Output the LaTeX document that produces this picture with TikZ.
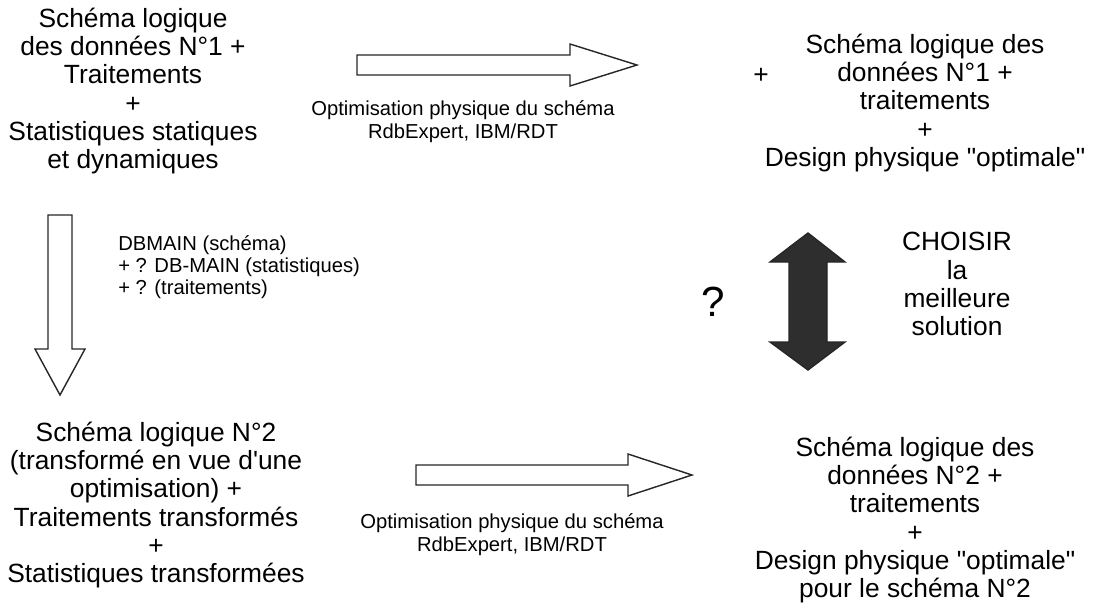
\documentclass[tikz,border=0pt]{standalone}
\usepackage{fontspec}
\setmainfont{Liberation Sans}[Ligatures=TeXOff]

\begin{document}
\begin{tikzpicture}[x=0.02cm,y=-0.02cm]
	\def \toprow{91}
	\def \midrow{284}
	\def \botrow{505}
	\def \leftcol{133}
	\def \rightcol{920}

	\tikzstyle{bloc}=[align=center,inner sep=0pt,font=\fontsize{15}{16}\selectfont]
	\tikzstyle{outil}=[align=center,inner sep=0pt,font=\fontsize{11.5}{13}\selectfont]
	\tikzstyle{hollow}=[draw=black!85,line width=0.8pt,fill=white,line join=miter]
	\tikzstyle{plein}=[draw=black!85,line width=0.8pt,fill=black!82,line join=miter]

	\useasboundingbox (0,0) rectangle (1093,606);

	% blocs de texte
	\node[bloc] (log1) at (\leftcol,\toprow) {Schéma logique\\des données N°1 +\\Traitements\\+\\Statistiques statiques\\et dynamiques};
	\node[bloc] (phys1) at (\rightcol+5,103) {Schéma logique des\\données N°1 +\\traitements\\+\\Design physique "optimale"};
	\node[bloc] (plus1) at (761,76) {+};

	\node[bloc] (log2) at (156,\botrow) {Schéma logique N°2\\(transformé en vue d'une\\optimisation) +\\Traitements transformés\\+\\Statistiques transformées};
	\node[bloc] (phys2) at (\rightcol-5,520) {Schéma logique des\\données N°2 +\\traitements\\+\\Design physique "optimale"\\pour le schéma N°2};

	\node[bloc] (choix) at (957,\midrow) {CHOISIR\\la\\meilleure\\solution};
	\node[font=\fontsize{24}{26}\selectfont,inner sep=0pt] (quest) at (713,302) {?};

	% labels des fleches
	\node[outil] (opt1) at (463,122) {Optimisation physique du schéma\\RdbExpert, IBM/RDT};
	\node[outil] (opt2) at (512,535) {Optimisation physique du schéma\\RdbExpert, IBM/RDT};
	\node[outil,align=left,anchor=west,font=\fontsize{11.5}{12.5}\selectfont] (dbmain) at (118,267) {DBMAIN (schéma)\\+ ? DB-MAIN (statistiques)\\+ ? (traitements)};

	% fleches
	\draw[hollow] (357,55) -- (570,55) -- (570,44) -- (637,65) -- (570,86) -- (570,75) -- (357,75) -- cycle;
	\draw[hollow] (416,465) -- (628,465) -- (628,454) -- (692,475) -- (628,496) -- (628,485) -- (416,485) -- cycle;
	\draw[hollow] (48,215) -- (72,215) -- (72,349) -- (85,349) -- (60,395) -- (35,349) -- (48,349) -- cycle;
	\draw[plein] (789,262) -- (770,262) -- (808,233) -- (845,262) -- (827,262) -- (827,342) -- (845,342) -- (808,370) -- (770,342) -- (789,342) -- cycle;
\end{tikzpicture}
\end{document}
